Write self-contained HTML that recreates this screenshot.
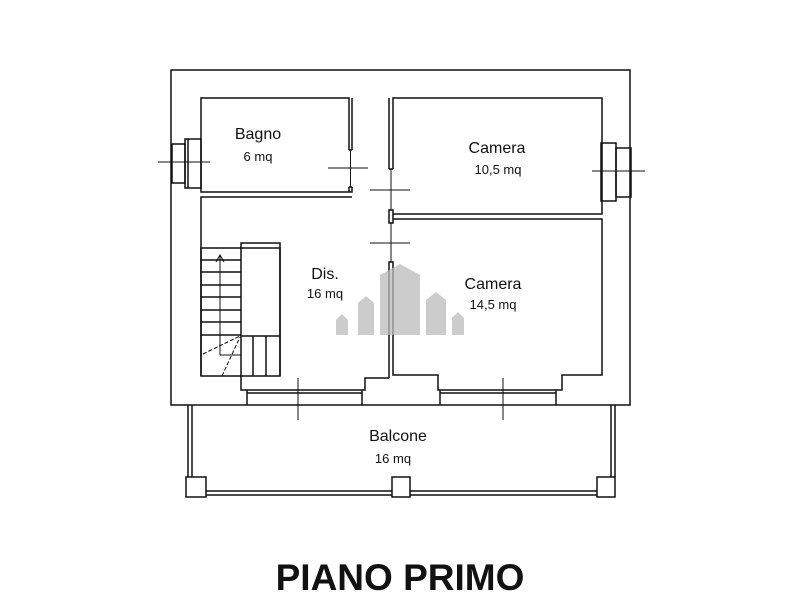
<!DOCTYPE html>
<html><head><meta charset="utf-8"><style>
html,body{margin:0;padding:0;background:#fff;width:800px;height:600px;overflow:hidden}
svg{display:block}
text{font-family:"Liberation Sans",sans-serif;fill:#111}
</style></head><body>
<svg width="800" height="600" viewBox="0 0 800 600" xmlns="http://www.w3.org/2000/svg">
<g fill="none" stroke="#111" stroke-width="1.5">
<rect x="171" y="70" width="459" height="335"/>
<polyline points="349,150 349,98 201,98 201,192 352,192 352,187"/>
<polyline points="352,150 352,98"/>
<line x1="349" y1="150" x2="352" y2="150"/>
<line x1="349" y1="187" x2="349" y2="192"/>
<polyline points="352,197 201,197 201,376"/>
<line x1="349" y1="187" x2="352" y2="187"/>
<polyline points="389,169 389,98"/>
<polyline points="393,169 393,98 602,98 602,214 393,214"/>
<line x1="389" y1="169" x2="393" y2="169"/>
<rect x="389" y="210" width="4" height="13"/>
<polyline points="393,219 602,219 602,375 562,375 562,390 438,390 438,375 393,375 393,262 389,262 389,378"/>
<polyline points="389,378 365,378 365,390 241,390 241,243 280,243 280,376"/>
<line x1="247" y1="390" x2="247" y2="405"/><line x1="362" y1="390" x2="362" y2="405"/>
<line x1="247" y1="393" x2="362" y2="393"/>
<line x1="440" y1="390" x2="440" y2="405"/><line x1="556" y1="390" x2="556" y2="405"/>
<line x1="440" y1="393" x2="556" y2="393"/>
<rect x="201" y="248" width="79" height="128"/>
<line x1="201" y1="260" x2="241" y2="260"/><line x1="201" y1="272" x2="241" y2="272"/>
<line x1="201" y1="285" x2="241" y2="285"/><line x1="201" y1="297" x2="241" y2="297"/>
<line x1="201" y1="310" x2="241" y2="310"/><line x1="201" y1="322" x2="241" y2="322"/>
<line x1="201" y1="335" x2="241" y2="335"/>
<line x1="241" y1="336" x2="280" y2="336"/>
<line x1="253" y1="336" x2="253" y2="376"/><line x1="266" y1="336" x2="266" y2="376"/>
<line x1="220" y1="255" x2="220" y2="355" stroke-width="1"/>
<polyline points="216,262 220,255 224,262" stroke-width="1"/>
<line x1="220" y1="355" x2="241" y2="355" stroke-width="1"/>
<line x1="203" y1="354" x2="240" y2="336" stroke-width="1" stroke-dasharray="4,2"/>
<line x1="222" y1="376" x2="240" y2="337" stroke-width="1" stroke-dasharray="4,2"/>
<rect x="172" y="144" width="13" height="39"/>
<rect x="185" y="139" width="16" height="49"/>
<line x1="188" y1="139" x2="188" y2="188"/>
<line x1="158" y1="162" x2="210" y2="162" stroke-width="1"/>
<rect x="601" y="143" width="15" height="58"/>
<rect x="616" y="148" width="15" height="49"/>
<line x1="592" y1="171" x2="645" y2="171" stroke-width="1"/>
<!-- door marks (crosses) -->
<line x1="328" y1="168" x2="368" y2="168" stroke-width="1"/>
<line x1="350.5" y1="150" x2="350.5" y2="187" stroke-width="1"/>
<line x1="370" y1="190" x2="410" y2="190" stroke-width="1"/>
<line x1="370" y1="243" x2="410" y2="243" stroke-width="1"/>
<line x1="391" y1="169" x2="391" y2="210" stroke-width="1"/>
<line x1="391" y1="223" x2="391" y2="262" stroke-width="1"/>
<line x1="298" y1="378" x2="298" y2="420" stroke-width="1"/>
<line x1="503" y1="378" x2="503" y2="420" stroke-width="1"/>
<line x1="188" y1="405" x2="188" y2="477"/><line x1="192" y1="405" x2="192" y2="477"/>
<line x1="611" y1="405" x2="611" y2="477"/><line x1="615" y1="405" x2="615" y2="477"/>
<line x1="206" y1="491" x2="392" y2="491"/><line x1="206" y1="495" x2="392" y2="495"/>
<line x1="410" y1="491" x2="597" y2="491"/><line x1="410" y1="495" x2="597" y2="495"/>
<rect x="186" y="477" width="20" height="20"/>
<rect x="392" y="477" width="18" height="20"/>
<rect x="597" y="477" width="18" height="20"/>
</g>
<g fill="#bbb" opacity="0.75">
<polygon points="380,275 400,264 420,275 420,335 380,335"/>
<polygon points="358,303 366,296 374,303 374,335 358,335"/>
<polygon points="336,320 342,314 348,320 348,335 336,335"/>
<polygon points="426,300 436,292 446,300 446,335 426,335"/>
<polygon points="452,318 458,312 464,318 464,335 452,335"/>
</g>
<g fill="#111">
<text x="258" y="139" font-size="16" text-anchor="middle">Bagno</text>
<text x="258" y="161" font-size="13" text-anchor="middle">6 mq</text>
<text x="497" y="153" font-size="16" text-anchor="middle">Camera</text>
<text x="498" y="174" font-size="13" text-anchor="middle">10,5 mq</text>
<text x="325" y="279" font-size="16" text-anchor="middle">Dis.</text>
<text x="325" y="298" font-size="13" text-anchor="middle">16 mq</text>
<text x="493" y="289" font-size="16" text-anchor="middle">Camera</text>
<text x="493" y="309" font-size="13" text-anchor="middle">14,5 mq</text>
<text x="398" y="441" font-size="16" text-anchor="middle">Balcone</text>
<text x="393" y="463" font-size="13" text-anchor="middle">16 mq</text>
<text x="400" y="590" font-size="37" font-weight="bold" text-anchor="middle">PIANO PRIMO</text>
</g>
</svg>
</body></html>
